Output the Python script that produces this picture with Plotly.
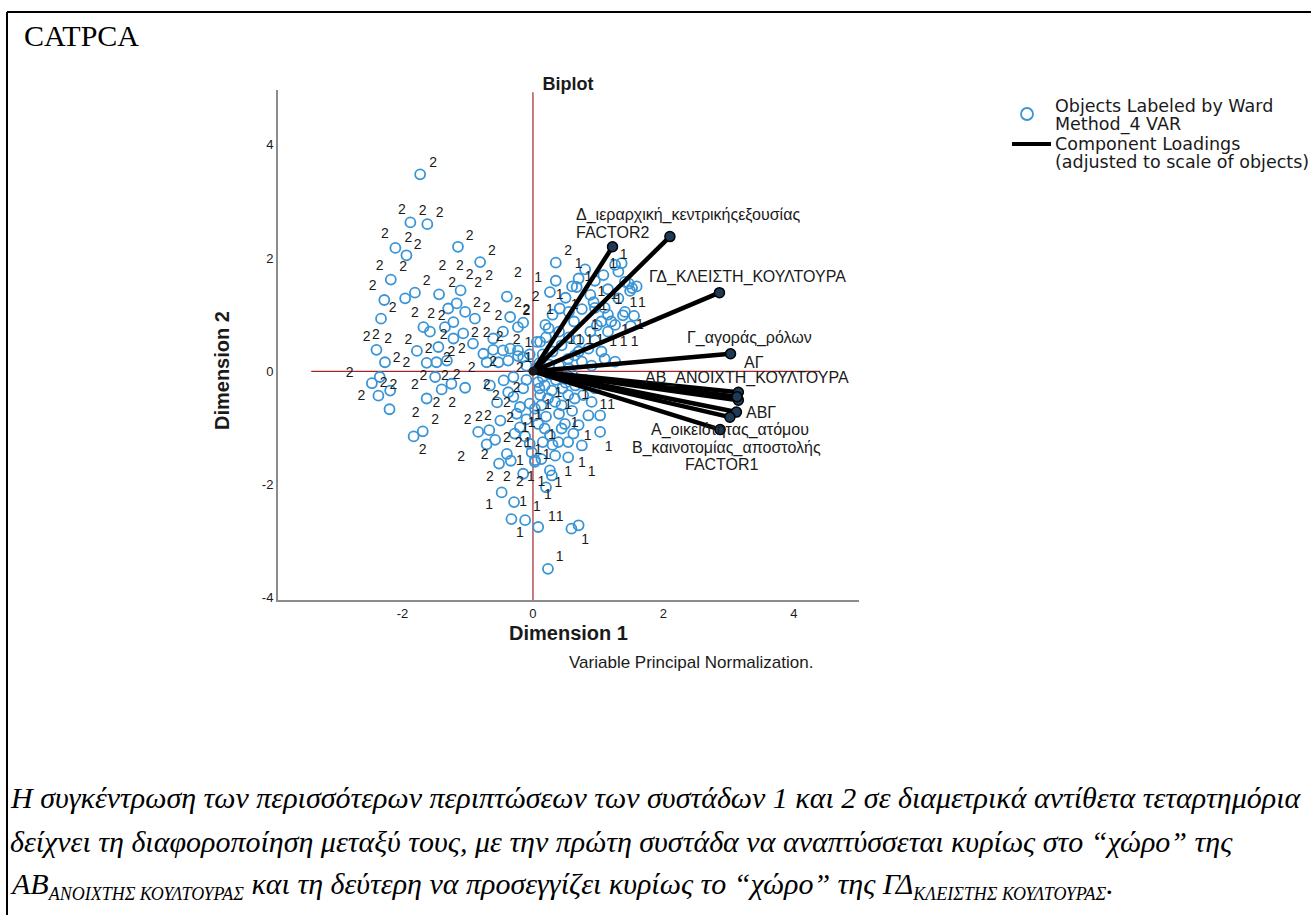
import plotly.graph_objects as go

# ---------------- data ----------------
# object scores (Dimension 1, Dimension 2)
obj_x = [
    -1.73, -1.88, -1.62, -2.11, -1.94, -1.15, -0.81, -2.18, -1.81, -1.96, -2.28, -1.44, -1.11, -0.40,
    -2.33, -1.17, -1.30, -1.04, -1.22, -0.89, -1.68, -1.58, -1.35, -0.35, -0.23, -0.15, -0.46, -1.07,
    -1.22, -0.92, -0.61, -2.40, -2.27, -1.78, -1.63, -1.48, -1.45, -0.76, -0.61, -0.46, -0.35, -0.23,
    -0.71, -0.53, -0.38, -0.23, -1.32, 0.06,
    -2.47, -2.35, -2.37, -2.19, -2.20, -1.63, -1.50, -1.40, -1.25, -1.04, -1.83, -1.69, -0.84, -0.67,
    -0.71, -0.58, -0.50, -0.40, -0.52, -0.34, -0.48, -0.33, -0.12, -0.29, -0.15, -0.20, -0.66, -0.45,
    -0.38, -0.30, -0.20, -0.05, -0.05, 0.03, 0.08, -0.25, -0.15, -0.10, -0.30, -0.55, -0.10, -0.28, -0.12,
    0.08, 0.18, 0.29, 0.11, 0.23, 0.13, 0.03, 0.34, 0.44, 0.54, 0.64, 0.77, 0.90, 0.85, 1.03, 1.03,
    0.75, 0.54, 0.44, 0.49, 0.39, 0.34, 0.54, 0.26, 0.29, 0.13, 0.03, 0.59, 0.70, 0.23, -0.02, 0.18,
    0.26, 0.08, 0.03, 0.15, 0.35, 0.50, 0.65, 0.40, 0.60, 0.20, 0.70, 0.30, 0.15, 0.10, 0.45, 0.25,
    0.60, 0.80, 0.95, 0.62, 0.20,
    0.35, 0.70, 0.67, 1.08, 1.26, 1.31, 1.36, 1.41, 1.47, 1.52, 1.59, 1.49, 0.26, 0.41, 0.88, 0.93,
    0.95, 1.10, 1.15, 1.20, 1.26, 1.41, 1.38, 1.31, 0.19, 0.24, 0.63, 0.88, 0.98, 1.05, 1.15, 0.11,
    0.44, 0.70, 0.85, 1.05, 1.26, 1.10, 0.54, 0.64, 0.75, 1.50, 1.55,
    0.10, 0.25, 0.40, 0.15, 0.30, 0.05, 0.55, 0.90, -0.10, -0.15, -0.05, 0.20, 0.40, 0.55, 0.70, 0.95,
    0.30, 0.55, 0.75, 0.50, 0.60, 0.80, 0.95, 1.15, 0.35,
]
obj_y = [
    3.48, 2.63, 2.60, 2.18, 2.05, 2.20, 1.93, 1.62, 1.39, 1.29, 1.26, 1.36, 1.43, 1.32,
    0.93, 1.20, 1.11, 1.05, 0.87, 0.93, 0.78, 0.70, 0.78, 0.96, 0.78, 0.86, 0.70, 0.67,
    0.58, 0.49, 0.58, 0.38, 0.16, 0.36, 0.15, 0.16, 0.43, 0.31, 0.38, 0.37, 0.40, 0.37,
    0.16, 0.16, 0.19, 0.27, 0.19, 0.52,
    -0.21, -0.10, -0.43, -0.34, -0.67, -0.48, -0.10, -0.32, -0.22, -0.29, -1.15, -1.06, -1.07, -1.04,
    -1.29, -1.21, -0.87, -1.46, -1.63, -1.58, -2.14, -2.61, -2.63, -2.31, -1.81, -0.99, -0.25, -0.16,
    -0.37, -0.45, -0.63, -0.57, -1.28, -1.57, -2.75, -0.75, -0.30, -0.15, -0.10, -0.55, -0.85, -1.10, -1.15,
    -0.19, -0.25, -0.34, -0.42, -0.48, -0.60, -0.66, -0.54, -0.60, -0.42, -0.48, -0.42, -0.54, -0.78, -0.78, -1.07,
    -1.31, -1.25, -1.01, -0.93, -1.25, -1.49, -1.52, -1.75, -1.84, -1.55, -1.60, -2.78, -2.72, -3.49, -1.43, -1.01,
    -1.13, -0.93, -0.78, -0.10, -0.15, -0.20, -0.25, -0.75, -0.70, -0.80, -0.95, -1.30, -1.25, -0.30, -0.30, -0.05,
    -0.05, -0.15, -0.30, -1.10, -2.05,
    1.92, 1.64, 1.49, 1.70, 1.88, 1.76, 1.91, 1.58, 1.55, 1.47, 1.50, 1.42, 1.40, 1.11, 1.35, 1.22,
    1.12, 1.12, 1.00, 0.88, 0.82, 1.05, 0.99, 1.29, 0.82, 0.76, 0.88, 0.70, 0.81, 0.88, 0.70, 0.52,
    0.46, 0.35, 0.40, 0.35, 0.17, 0.22, 0.22, 0.28, 0.17, 0.80, 0.98,
    0.15, 0.12, 0.10, 0.30, 0.35, 0.05, 0.05, 0.10, 0.10, 0.25, 0.30, 0.60, 0.70, 0.60, 0.55, 0.55,
    1.00, 1.05, 1.10, 1.30, 1.50, 1.80, 1.60, 1.45, 1.60,
]

# Ward cluster labels that are visible on the chart (label text and its position)
lab2_x = [
    -1.53, -2.01, -1.69, -1.43, -2.27, -1.91, -1.77, -0.97, -0.63, -2.35, -1.99, -1.39, -1.12, -0.97,
    -0.84, -0.67, -0.23, -2.46, -1.63, -1.24, -2.15, -1.81, -1.56, -1.40, -0.86, -0.71, -0.53, -0.23,
    -0.10, 0.04, -2.55, -2.41, -2.22, -1.91, -1.60, -1.37, -1.25, -1.09, -0.89, -0.71, -0.51, -0.25,
    -2.09, -1.94, -1.32, -0.94, -0.61, -0.20,
    -2.81, -2.63, -2.29, -2.14, -1.81, -1.68, -1.35, -1.17, -1.48, -1.24, -1.80, -1.50, -1.00, -0.83,
    -0.69, -0.71, -0.57, -0.40, -0.35, -0.25, -0.40, -0.22, -1.69, -1.10, -0.74, -0.66, -0.40, -0.20,
    0.54, -0.10,
]
lab2_y = [
    3.68, 2.85, 2.82, 2.79, 2.41, 2.34, 2.23, 2.38, 2.12, 1.86, 1.83, 1.86, 1.85, 1.70,
    1.55, 1.67, 1.73, 1.49, 1.58, 1.55, 1.11, 1.03, 1.00, 0.96, 1.20, 1.11, 0.96, 1.20,
    1.07, 1.30, 0.60, 0.63, 0.57, 0.55, 0.39, 0.63, 0.34, 0.38, 0.66, 0.67, 0.60, 0.55,
    0.22, 0.14, 0.22, 0.05, 0.16, 0.05,
    -0.03, -0.45, -0.22, -0.25, -0.25, -0.10, -0.10, -0.07, -0.56, -0.56, -0.74, -0.87, -0.87, -0.82,
    -0.80, -0.25, -0.44, -0.57, -0.84, -0.31, -1.19, -1.27, -1.39, -1.53, -1.49, -1.87, -1.88, -1.96,
    2.11, 1.05,
]
lab1_x = [
    0.70, 1.39, 1.23, 0.08, 0.41, 0.85, 1.05, 1.25, 1.54, 1.67, 0.26, 0.64, 1.08, 1.31, 1.64, 1.41,
    0.95, 0.59, 0.72, 0.87, 1.03, 1.23, 1.39, 1.56, -0.07, -0.07,
    -0.12, -0.08, -0.20, -0.03, -0.67, -0.15, -0.20, 0.06, 0.39, 0.80, 0.23, 0.54, 1.08, 1.20, 0.64,
    0.08, -0.02, 0.29, 0.84, 0.08, 0.21, 1.16, 0.75, 0.90, 0.54, 0.13, 0.39, 0.23, 0.29, 0.41, 0.80, 0.41,
]
lab1_y = [
    1.89, 2.05, 1.88, 1.64, 1.34, 1.65, 1.40, 1.34, 1.20, 1.20, 1.08, 1.17, 1.14, 1.26, 0.81, 0.73,
    0.81, 0.54, 0.54, 0.54, 0.54, 0.51, 0.51, 0.51, 0.49, 0.22,
    -1.01, -1.27, -1.60, -1.88, -2.37, -2.31, -2.87, -2.40, -0.40, -0.42, -0.60, -0.60, -0.60, -0.60, -0.93,
    -0.78, -0.93, -1.13, -1.16, -1.40, -1.49, -1.34, -1.63, -1.78, -1.78, -1.96, -1.99, -2.20, -2.58, -2.58, -2.99, -3.29,
]

# component loadings (adjusted to scale of objects)
load_names = [
    "Δ_ιεραρχική_κεντρικήςεξουσίας", "FACTOR2", "ΓΔ_ΚΛΕΙΣΤΗ_ΚΟΥΛΤΟΥΡΑ", "Γ_αγοράς_ρόλων", "ΑΓ",
    "ΑΒ_ΑΝΟΙΧΤΗ_ΚΟΥΛΤΟΥΡΑ", "ΑΒΓ", "Α_οικειότητας_ατόμου", "Β_καινοτομίας_αποστολής", "FACTOR1",
]
load_x = [2.10, 1.22, 2.86, 3.03, 3.15, 3.15, 3.12, 3.02, 2.87, 3.13]
load_y = [2.38, 2.20, 1.39, 0.31, -0.37, -0.51, -0.72, -0.81, -1.03, -0.45]

x_ticks = [-2, 0, 2, 4]
y_ticks = [-4, -2, 0, 2, 4]

legend_lines_objects = ["Objects Labeled by Ward", "Method_4 VAR"]
legend_lines_loadings = ["Component Loadings", "(adjusted to scale of objects)"]

# ---------------- layout helpers (pixels) ----------------
W, H = 1311, 915
PL, PR, PT, PB = 278, 859, 90, 600


def fx(p):
    return (p - PL) / (PR - PL)


def fy(p):
    return (PB - p) / (PB - PT)


SANS = "Liberation Sans, Arial, sans-serif"
WIDE = "DejaVu Sans, Verdana, sans-serif"
SERIF = "Liberation Serif, Times New Roman, serif"
RED = "#a3262b"
BLUE = "#3a95d6"
INK = "#1a1a1a"

# label pixel offsets for loading names
lab_dx = [18, 0, 28, 19, 16, 9, 8, 0, 6, -15]
lab_dy = [22, 14, 16, 16, 30, 22, 0, -13, -18, -68]
lab_anchor = ["center"] * 6 + ["left"] + ["center"] * 3

fig = go.Figure()

# reference lines
fig.add_shape(type="line", x0=-3.4, x1=4.4, y0=0, y1=0, xref="x", yref="y",
              line=dict(color=RED, width=1.2), layer="below")
fig.add_shape(type="line", x0=0, x1=0, y0=-4.04, y1=4.93, xref="x", yref="y",
              line=dict(color=RED, width=1.2), layer="below")

# objects
fig.add_trace(go.Scatter(
    x=obj_x, y=obj_y, mode="markers",
    marker=dict(symbol="circle-open", size=10, color=BLUE, line=dict(width=1.8, color=BLUE)),
    name="Objects Labeled by Ward Method_4 VAR", hoverinfo="skip", showlegend=False,
))
fig.add_trace(go.Scatter(
    x=lab2_x, y=lab2_y, mode="text", text=["2"] * len(lab2_x),
    textfont=dict(family=SANS, size=14, color=INK), showlegend=False, hoverinfo="skip",
))
fig.add_trace(go.Scatter(
    x=lab1_x, y=lab1_y, mode="text", text=["1"] * len(lab1_x),
    textfont=dict(family=SANS, size=14, color=INK), showlegend=False, hoverinfo="skip",
))

# loading vectors
lx, ly = [], []
for a, b in zip(load_x, load_y):
    lx += [0, a, None]
    ly += [0, b, None]
fig.add_trace(go.Scatter(
    x=lx, y=ly, mode="lines", line=dict(color="black", width=4.5),
    name="Component Loadings (adjusted to scale of objects)", hoverinfo="skip", showlegend=False,
))
fig.add_trace(go.Scatter(
    x=load_x, y=load_y, mode="markers",
    marker=dict(size=10, color="#1d3a57", line=dict(width=1.5, color="black")),
    showlegend=False, hoverinfo="skip",
))
fig.add_trace(go.Scatter(
    x=[0], y=[0], mode="markers", marker=dict(size=9, color=INK),
    showlegend=False, hoverinfo="skip",
))

for n, a, b, dx, dy, anc in zip(load_names, load_x, load_y, lab_dx, lab_dy, lab_anchor):
    fig.add_annotation(x=a, y=b, xref="x", yref="y", text=n, showarrow=False,
                       xshift=dx, yshift=dy, xanchor=anc, yanchor="middle",
                       font=dict(family=SANS, size=16, color=INK))

# legend (drawn manually to match the SPSS layout)
fig.add_shape(type="circle", xref="paper", yref="paper",
              x0=fx(1021), x1=fx(1033), y0=fy(120), y1=fy(108),
              line=dict(color=BLUE, width=1.8))
fig.add_shape(type="line", xref="paper", yref="paper",
              x0=fx(1012), x1=fx(1051), y0=fy(144), y1=fy(144),
              line=dict(color="black", width=4))
for t, yy in zip(legend_lines_objects + legend_lines_loadings, [106, 124, 144, 162]):
    fig.add_annotation(x=fx(1053), y=fy(yy), xref="paper", yref="paper", text=t,
                       showarrow=False, xanchor="left", yanchor="middle",
                       font=dict(family=WIDE, size=17.5, color=INK))

# texts outside plot
fig.add_annotation(x=fx(22), y=fy(36), xref="paper", yref="paper", text="CATPCA",
                   showarrow=False, xanchor="left", yanchor="middle",
                   font=dict(family=SERIF, size=30, color="black"))
fig.add_annotation(x=fx(567), y=fy(662), xref="paper", yref="paper",
                   text="Variable Principal Normalization.", showarrow=False,
                   xanchor="left", yanchor="middle",
                   font=dict(family=SANS, size=17, color=INK))
fig.add_annotation(x=fx(222), y=fy(371), xref="paper", yref="paper",
                   text="<b>Dimension 2</b>", showarrow=False, textangle=-90,
                   xanchor="center", yanchor="middle",
                   font=dict(family=SANS, size=20, color=INK))

SUB = '<sub><span style="font-size:18px">{}</span></sub>'
para = [
    "Η συγκέντρωση των περισσότερων περιπτώσεων των συστάδων 1 και 2 σε διαμετρικά αντίθετα τεταρτημόρια",
    "δείχνει τη διαφοροποίηση μεταξύ τους, με την πρώτη συστάδα να αναπτύσσεται κυρίως στο “χώρο” της",
    "ΑΒ" + SUB.format("ΑΝΟΙΧΤΗΣ ΚΟΥΛΤΟΥΡΑΣ") + " και τη δεύτερη να προσεγγίζει κυρίως το “χώρο” της ΓΔ"
    + SUB.format("ΚΛΕΙΣΤΗΣ ΚΟΥΛΤΟΥΡΑΣ") + ".",
]
para_y = [797, 841, 885]
for t, yy in zip(para, para_y):
    fig.add_annotation(x=fx(8), y=fy(yy), xref="paper", yref="paper", text="<i>" + t + "</i>",
                       showarrow=False, xanchor="left", yanchor="middle",
                       font=dict(family=SERIF, size=30, color="black"))

# page frame lines
fig.add_shape(type="line", xref="paper", yref="paper", x0=fx(7), x1=fx(1311), y0=fy(12), y1=fy(12),
              line=dict(color="black", width=2))
fig.add_shape(type="line", xref="paper", yref="paper", x0=fx(7), x1=fx(7), y0=fy(12), y1=fy(915),
              line=dict(color="black", width=2))

fig.update_layout(
    width=W, height=H,
    margin=dict(l=PL, r=W - PR, t=PT, b=H - PB, pad=0),
    paper_bgcolor="white", plot_bgcolor="white",
    showlegend=False,
    title=dict(text="<b>Biplot</b>", x=fx(568), xref="paper", xanchor="center",
               y=1 - 84 / H, yanchor="middle", font=dict(family=SANS, size=18, color=INK)),
    font=dict(family=SANS, color=INK),
    xaxis=dict(range=[-3.91, 5.0], tickvals=x_ticks, ticktext=[str(v) for v in x_ticks],
               showgrid=False, zeroline=False, showline=True, linecolor="#8c8c8c", linewidth=2,
               ticks="", tickfont=dict(size=13, color=INK),
               title=dict(text="<b>Dimension 1</b>", font=dict(size=20), standoff=6)),
    yaxis=dict(range=[-4.04, 4.97], tickvals=y_ticks, ticktext=[str(v) for v in y_ticks],
               showgrid=False, zeroline=False, showline=True, linecolor="#8c8c8c", linewidth=2,
               ticks="", tickfont=dict(size=13, color=INK)),
)

fig.write_html("out.html", config={"displayModeBar": False},
               post_script="document.body.style.margin='0';")
